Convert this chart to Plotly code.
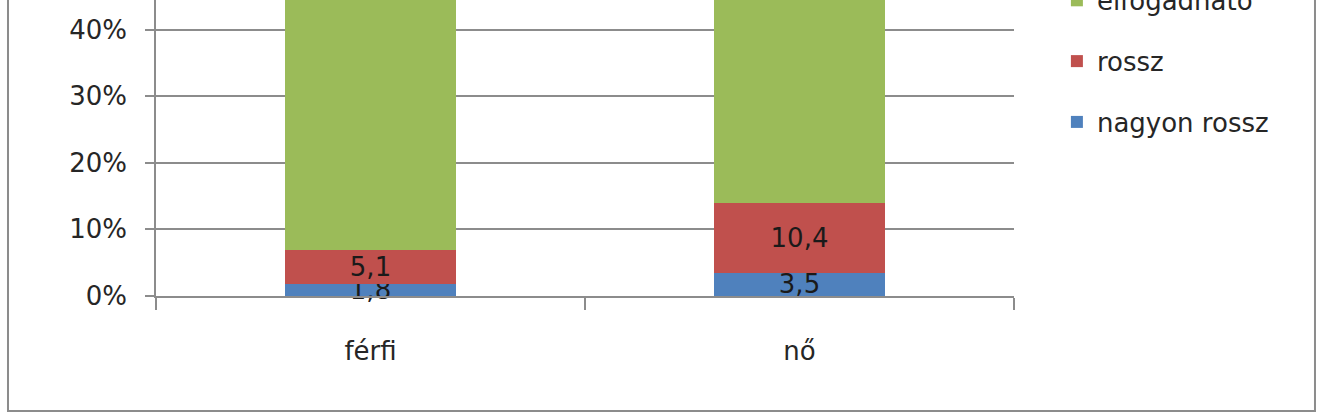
import plotly.graph_objects as go

categories = ['férfi', 'nő']
series_names = ['nagyon rossz', 'rossz', 'elfogadható']
nagyon_rossz = [1.8, 3.5]
rossz = [5.1, 10.4]
elfogadhato = [41.5, 39.6]
y_ticks = [0, 10, 20, 30, 40]
y_tick_labels = ['0%', '10%', '20%', '30%', '40%']

colors = ['#4F81BD', '#C0504D', '#9BBB59']
FONT = 'DejaVu Sans'
TXT = '#262626'
GRID = '#8c8c8c'

fig = go.Figure()
for i, (name, vals, col) in enumerate(zip(series_names, [nagyon_rossz, rossz, elfogadhato], colors)):
    fig.add_trace(go.Bar(
        x=categories, y=vals, name=name, legendgroup=name,
        legendrank=len(series_names) - i,
        marker=dict(color=col, line=dict(width=0)),
        text=[str(v).replace('.', ',') for v in vals],
        textposition='inside', insidetextanchor='middle',
        constraintext='none', cliponaxis=False,
        textfont=dict(family=FONT, size=26, color='#1a1a1a'),
    ))

# outer chart frame (top edge lies outside the visible window)
fig.add_shape(type='rect', xref='paper', yref='paper',
              x0=-0.1725, x1=1.3508, y0=-0.3885, y1=1.3,
              line=dict(color=GRID, width=2), layer='below')

fig.update_layout(
    width=1324, height=417,
    barmode='stack', bargap=0.6,
    plot_bgcolor='white', paper_bgcolor='white',
    margin=dict(l=156, r=310, t=0, b=121, autoexpand=False),
    font=dict(family=FONT, size=26, color=TXT),
    showlegend=True,
    legend=dict(x=1.05, xanchor='left', y=1.078, yanchor='top',
                traceorder='grouped', tracegroupgap=24,
                font=dict(family=FONT, size=26, color=TXT),
                bgcolor='rgba(0,0,0,0)'),
    xaxis=dict(showline=True, linecolor=GRID, linewidth=1.5,
               ticks='outside', tickson='boundaries', ticklen=12,
               tickcolor=GRID, tickwidth=1.5, ticklabelstandoff=31,
               showgrid=False, zeroline=False),
    yaxis=dict(range=[0, 44.44], tickvals=y_ticks, ticktext=y_tick_labels,
               showline=True, linecolor=GRID, linewidth=1.5,
               showgrid=True, gridcolor=GRID, gridwidth=1.5,
               ticks='outside', ticklen=9, tickcolor=GRID, tickwidth=1.5,
               ticklabelstandoff=13, zeroline=False),
)

fig.write_html('out.html', config={'displayModeBar': False},
               post_script="document.body.style.margin='0';")
